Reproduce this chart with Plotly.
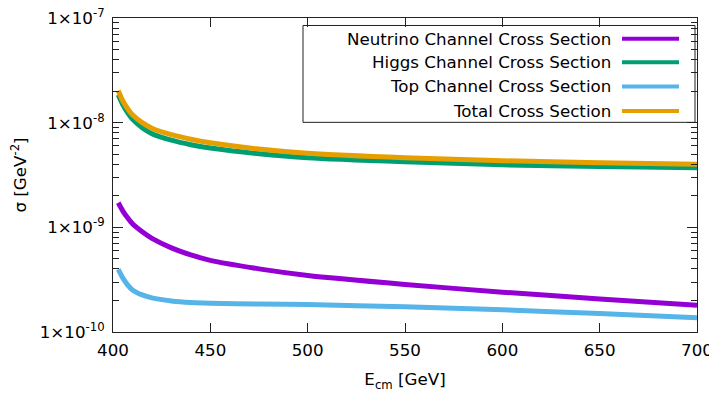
import plotly.graph_objects as go

# ---- data ----
ecm = [402.7, 405, 407.5, 410, 415, 420, 430, 440, 450, 475, 500, 550, 600, 650, 700]
neutrino = [1.716e-9, 1.438e-9, 1.232e-9, 1.080e-9, 9.06e-10, 7.85e-10, 6.37e-10, 5.45e-10,
            4.83e-10, 4.01e-10, 3.47e-10, 2.85e-10, 2.40e-10, 2.07e-10, 1.80e-10]
higgs = [1.85e-8, 1.49e-8, 1.25e-8, 1.08e-8, 8.96e-9, 7.85e-9, 6.80e-9, 6.16e-9,
         5.73e-9, 5.05e-9, 4.62e-9, 4.23e-9, 3.96e-9, 3.81e-9, 3.71e-9]
top = [3.96e-10, 3.29e-10, 2.82e-10, 2.52e-10, 2.26e-10, 2.12e-10, 1.98e-10, 1.91e-10,
       1.88e-10, 1.85e-10, 1.83e-10, 1.74e-10, 1.63e-10, 1.50e-10, 1.37e-10]
total = [2.02e-8, 1.62e-8, 1.36e-8, 1.19e-8, 1.00e-8, 8.86e-9, 7.68e-9, 6.95e-9,
         6.43e-9, 5.60e-9, 5.10e-9, 4.62e-9, 4.33e-9, 4.14e-9, 4.01e-9]

names = ["Neutrino Channel Cross Section", "Higgs Channel Cross Section",
         "Top Channel Cross Section", "Total Cross Section"]
colors = ["#9400D3", "#009E73", "#56B4E9", "#E69F00"]
series = [neutrino, higgs, top, total]

x_ticks = [400, 450, 500, 550, 600, 650, 700]
y_ticks = [1e-10, 1e-9, 1e-8, 1e-7]
y_ticktext = ["1×10<sup>-10</sup>", "1×10<sup>-9</sup>", "1×10<sup>-8</sup>", "1×10<sup>-7</sup>"]
y_minor = [m * 10.0 ** e for e in (-10, -9, -8) for m in range(2, 10)]

FONT = "DejaVu Sans"
FS = 16.7

# page has an 8px body margin, so the figure starts at (8, 8) in the window
OFF = 8
W, H = 717, 403
# plot-area geometry in window pixels
L, R, T, B = 113, 697, 17.5, 332

def px(xp):
    return (xp - L) / (R - L)

def py(yp):
    return (B - yp) / (B - T)

fig = go.Figure()
for name, ys, c in zip(names, series, colors):
    fig.add_trace(go.Scatter(x=ecm, y=ys, mode="lines", name=name,
                             line=dict(color=c, width=5, shape="spline", smoothing=0.6),
                             showlegend=False))

legend_y = [38.3, 61.7, 86.0, 110.7]
shapes = [dict(type="rect", xref="x domain", yref="y domain",
               x0=px(303), x1=px(695), y0=py(122), y1=py(25),
               line=dict(color="#222", width=1), fillcolor="white", layer="below")]
annotations = []
for name, c, yy in zip(names, colors, legend_y):
    annotations.append(dict(x=px(613), y=py(yy), xref="x domain", yref="y domain", text=name,
                            showarrow=False, xanchor="right", yanchor="middle",
                            font=dict(family=FONT, size=FS, color="#000")))
    shapes.append(dict(type="line", xref="x domain", yref="y domain",
                       x0=px(622), x1=px(679), y0=py(yy), y1=py(yy),
                       line=dict(color=c, width=4)))

fig.update_layout(
    width=W, height=H,
    margin=dict(l=L - OFF, r=W - (R - OFF), t=T - OFF, b=H - (B - OFF), autoexpand=False),
    paper_bgcolor="white", plot_bgcolor="white",
    font=dict(family=FONT, size=FS, color="#000"),
    shapes=shapes, annotations=annotations,
    xaxis=dict(range=[400, 700], tickvals=x_ticks, ticks="inside", ticklen=9,
               tickcolor="#222", showline=True, linecolor="#222", linewidth=1,
               mirror="ticks", showgrid=False, zeroline=False, automargin=False,
               ticklabeloverflow="allow", ticklabelstandoff=3,
               tickfont=dict(family=FONT, size=FS),
               title=dict(text="E<sub>cm</sub> [GeV]", font=dict(family=FONT, size=FS), standoff=14)),
    yaxis=dict(type="log", range=[-10, -7], tickvals=y_ticks, ticktext=y_ticktext,
               ticks="inside", ticklen=10, tickcolor="#222",
               showline=True, linecolor="#222", linewidth=1, mirror="ticks",
               showgrid=False, zeroline=False, automargin=False,
               ticklabeloverflow="allow", ticklabelstandoff=4,
               tickfont=dict(family=FONT, size=FS),
               minor=dict(tickvals=y_minor, ticks="inside", ticklen=6, tickcolor="#222", showgrid=False),
               title=dict(text="σ [GeV<sup>-2</sup>]", font=dict(family=FONT, size=FS), standoff=14)),
)

fig.write_html("out.html")
